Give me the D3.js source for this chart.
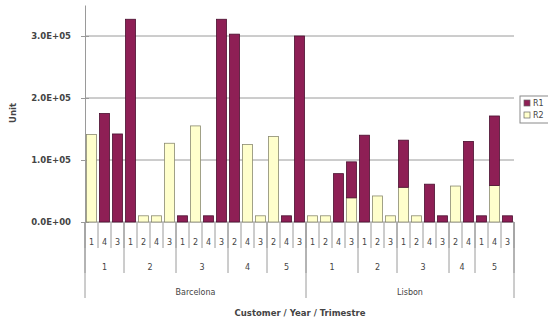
<!DOCTYPE html>
<html>
<head>
<meta charset="utf-8">
<script src="https://cdn.jsdelivr.net/npm/d3@7"></script>
<style>
  body { margin: 0; background: #fff; }
  text { font-family: "DejaVu Sans", sans-serif; fill: #444; }
</style>
</head>
<body>
<svg id="chart" width="548" height="322"></svg>
<script>
// categories: customer / year / trimestre for every bar
const barCustomer = ["Barcelona","Barcelona","Barcelona","Barcelona","Barcelona","Barcelona","Barcelona","Barcelona","Barcelona","Barcelona","Barcelona","Barcelona","Barcelona","Barcelona","Barcelona","Barcelona","Barcelona",
  "Lisbon","Lisbon","Lisbon","Lisbon","Lisbon","Lisbon","Lisbon","Lisbon","Lisbon","Lisbon","Lisbon","Lisbon","Lisbon","Lisbon","Lisbon","Lisbon"];
const barYear = ["1","1","1","2","2","2","2","3","3","3","3","4","4","4","5","5","5",
  "1","1","1","1","2","2","2","3","3","3","3","4","4","5","5","5"];
const barTrimestre = ["1","4","3","1","2","4","3","1","2","4","3","2","4","3","2","4","3",
  "1","2","4","3","1","2","3","1","2","4","3","2","4","1","4","3"];

const seriesNames = ["R1", "R2"];
const r1 = [0,175000,142000,327000,0,0,0,10000,0,10000,327000,303000,0,0,0,10000,300000,
  0,0,78000,58000,140000,0,0,76000,0,61000,10000,0,130000,10000,112000,10000];
const r2 = [141000,0,0,0,10000,10000,127000,0,155000,0,0,0,125000,10000,138000,0,0,
  10000,10000,0,39000,0,42000,10000,56000,10000,0,0,58000,0,0,59000,0];

const yTicks = [0, 100000, 200000, 300000];
const colors = { R1: "#8e1f55", R2: "#ffffcc" };

const margin = { top: 5, left: 85, plotW: 429, plotH: 217 };
const svg = d3.select("#chart");
const g = svg.append("g").attr("transform", `translate(${margin.left},${margin.top})`);

const keys = barTrimestre.map((d, i) => i);
const x = d3.scaleBand().domain(keys).range([0, margin.plotW]).paddingInner(0.23).paddingOuter(0.115);
const y = d3.scaleLinear().domain([0, 350000]).range([margin.plotH, 0]);

const fmtE = v => {
  if (v === 0) return "0.0E+00";
  const e = Math.floor(Math.log10(v));
  return (v / Math.pow(10, e)).toFixed(1) + "E+" + String(e).padStart(2, "0");
};

// gridlines
g.selectAll("line.grid")
  .data(yTicks)
  .enter().append("line")
  .attr("x1", 0).attr("x2", margin.plotW)
  .attr("y1", d => y(d)).attr("y2", d => y(d))
  .attr("stroke", "#9a9a9a").attr("stroke-width", 1);

// y axis
const yAxis = g.append("g")
  .call(d3.axisLeft(y).tickValues(yTicks).tickFormat(fmtE).tickSizeInner(4).tickSizeOuter(0).tickPadding(10));
yAxis.select(".domain").attr("stroke", "#9a9a9a");
yAxis.selectAll(".tick line").attr("x1", -4).attr("x2", 4).attr("stroke", "#9a9a9a");
yAxis.selectAll(".tick text")
  .style("font-family", "DejaVu Sans").style("font-size", "8.5px").style("font-weight", "bold").attr("fill", "#555");

// stacked bars: R2 at bottom, R1 on top
const rows = keys.map(i => ({ i, R1: r1[i], R2: r2[i] }));
const stack = d3.stack().keys(["R2", "R1"])(rows);
g.selectAll("g.series")
  .data(stack)
  .enter().append("g")
  .attr("fill", s => colors[s.key])
  .selectAll("rect")
  .data(s => s.filter(d => d[1] - d[0] > 0).map(d => ({ d, key: s.key })))
  .enter().append("rect")
  .attr("x", o => x(o.d.data.i))
  .attr("width", x.bandwidth())
  .attr("y", o => y(o.d[1]))
  .attr("height", o => y(o.d[0]) - y(o.d[1]))
  .attr("stroke", o => o.key === "R1" ? "#4a1030" : "#8a8a70")
  .attr("stroke-width", 0.8);

// multi-level category axis
const step = x.step();
const x0 = x(0) - x.paddingOuter() * step;
const edge = i => x0 + i * step;
const axisG = g.append("g").attr("transform", `translate(0,${margin.plotH})`);

function groups(arrFn) {
  const out = [];
  keys.forEach(i => {
    const k = arrFn(i);
    if (out.length && out[out.length - 1].k === k) out[out.length - 1].end = i + 1;
    else out.push({ k, start: i, end: i + 1, label: arrFn.label(i) });
  });
  return out;
}
const trimFn = i => barCustomer[i] + barYear[i] + "|" + i; trimFn.label = i => barTrimestre[i];
const yearFn = i => barCustomer[i] + "|" + barYear[i]; yearFn.label = i => barYear[i];
const custFn = i => barCustomer[i]; custFn.label = i => barCustomer[i];

const levels = [
  { fn: trimFn, lineLen: 26, textY: 23, size: "8px" },
  { fn: yearFn, lineLen: 51, textY: 48, size: "8px" },
  { fn: custFn, lineLen: 76, textY: 73, size: "8px" }
];
levels.forEach(lv => {
  const gs = groups(lv.fn);
  const bounds = new Set();
  gs.forEach(gr => { bounds.add(gr.start); bounds.add(gr.end); });
  axisG.selectAll(null)
    .data([...bounds])
    .enter().append("line")
    .attr("x1", b => edge(b)).attr("x2", b => edge(b))
    .attr("y1", 0).attr("y2", lv.lineLen)
    .attr("stroke", "#9a9a9a").attr("stroke-width", 1);
  axisG.selectAll(null)
    .data(gs)
    .enter().append("text")
    .attr("x", gr => (edge(gr.start) + edge(gr.end)) / 2)
    .attr("y", lv.textY)
    .attr("text-anchor", "middle")
    .style("font-size", lv.size)
    .text(gr => gr.label);
});

// axis titles
svg.append("text")
  .attr("x", 300).attr("y", 316)
  .attr("text-anchor", "middle")
  .style("font-size", "8.5px").style("font-weight", "bold").attr("fill", "#333")
  .text("Customer / Year / Trimestre");
svg.append("text")
  .attr("transform", "translate(16,113) rotate(-90)")
  .attr("text-anchor", "middle")
  .style("font-size", "8.5px").style("font-weight", "bold").attr("fill", "#333")
  .text("Unit");

// legend
const legend = svg.append("g").attr("transform", "translate(520,96)");
legend.append("rect").attr("width", 40).attr("height", 27)
  .attr("fill", "#fff").attr("stroke", "#8a8a8a");
seriesNames.forEach((s, i) => {
  legend.append("rect").attr("x", 4).attr("y", 4 + i * 12).attr("width", 6).attr("height", 6)
    .attr("fill", colors[s]).attr("stroke", "#666").attr("stroke-width", 0.7);
  legend.append("text").attr("x", 13).attr("y", 10 + i * 12)
    .style("font-size", "8px").text(s);
});
</script>
</body>
</html>
